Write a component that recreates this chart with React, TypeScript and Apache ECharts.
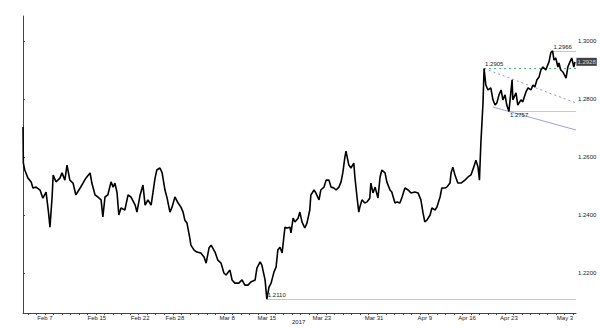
import React, { useEffect, useRef } from "react";
import * as echarts from "echarts";

// x = chart time in trading hours from the first bar, y = GBP/USD price
const hours = [
  0, 1, 5, 14, 23, 28, 37, 48, 56, 65, 72, 76, 82, 85, 93, 104, 110, 118, 124, 132,
  141, 149, 161, 169, 177, 189, 194, 203, 211, 220, 225, 231, 239, 248, 254, 259, 265, 270, 276, 287,
  296, 304, 316, 321, 330, 338, 344, 352, 361, 366, 372, 377, 386, 392, 400, 406, 414, 420, 428, 437,
  445, 451, 456, 462, 470, 473, 482, 490, 501, 510, 516, 524, 530, 541, 549, 558, 566, 572, 583, 589,
  597, 608, 617, 625, 634, 642, 654, 659, 668, 673, 682, 687, 693, 699, 707, 713, 718, 724, 730, 738,
  744, 752, 755, 761, 766, 775, 780, 786, 794, 800, 808, 811, 820, 825, 834, 839, 848, 854, 862, 868,
  876, 882, 890, 896, 901, 907, 910, 918, 924, 932, 935, 941, 946, 949, 955, 963, 969, 977, 980, 986,
  992, 1000, 1006, 1011, 1020, 1025, 1034, 1039, 1048, 1054, 1062, 1068, 1076, 1085, 1093, 1104, 1113, 1121, 1127, 1132,
  1138, 1147, 1152, 1161, 1166, 1175, 1180, 1189, 1194, 1203, 1206, 1211, 1217, 1225, 1234, 1245, 1254, 1262, 1270, 1276,
  1282, 1286, 1287, 1290, 1296, 1299, 1304, 1310, 1318, 1324, 1330, 1335, 1341, 1347, 1352, 1358, 1363, 1369, 1378, 1380,
  1389, 1394, 1403, 1408, 1417, 1423, 1431, 1437, 1442, 1448, 1454, 1459, 1465, 1473, 1476, 1482, 1487, 1492, 1496, 1501,
  1507, 1510, 1515, 1521, 1530, 1535, 1541, 1546, 1552, 1555,
];
const prices = [
  1.2703, 1.2579, 1.2555, 1.2527, 1.2514, 1.2493, 1.2496, 1.2486, 1.2458, 1.2479, 1.2407, 1.2358, 1.2462, 1.2538, 1.2514, 1.2527, 1.2545, 1.252, 1.2572, 1.252,
  1.251, 1.2469, 1.2493, 1.251, 1.2527, 1.2545, 1.251, 1.2469, 1.2462, 1.2452, 1.2393, 1.2462, 1.2469, 1.2514, 1.2496, 1.251, 1.2476, 1.24, 1.2424, 1.2417,
  1.2469, 1.2462, 1.2434, 1.241, 1.2469, 1.2503, 1.2434, 1.2452, 1.2434, 1.2476, 1.2527, 1.2555, 1.2562, 1.2545, 1.2486, 1.2458, 1.241, 1.2427, 1.2462, 1.2441,
  1.2427, 1.241, 1.2382, 1.2372, 1.232, 1.2296, 1.2279, 1.2272, 1.2269, 1.2255, 1.2234, 1.2286, 1.2296, 1.2272, 1.2244, 1.2234, 1.22, 1.2193, 1.221, 1.2176,
  1.2165, 1.2165, 1.2176, 1.2158, 1.2158, 1.2169, 1.2176, 1.2217, 1.2238, 1.2227, 1.2176, 1.211, 1.2151, 1.2165, 1.2203, 1.222, 1.2279, 1.2289, 1.2269, 1.2358,
  1.2355, 1.2358, 1.2338, 1.2389, 1.2376, 1.2389, 1.241, 1.2376, 1.2355, 1.2372, 1.2417, 1.2469, 1.2486, 1.2476, 1.2452, 1.2486, 1.2496, 1.252, 1.252, 1.2496,
  1.2493, 1.2486, 1.2496, 1.2514, 1.2545, 1.26, 1.262, 1.2572, 1.2562, 1.2579, 1.2531, 1.2462, 1.241, 1.2427, 1.2452, 1.2441, 1.2445, 1.2458, 1.251, 1.2476,
  1.2496, 1.2458, 1.2531, 1.2555, 1.2545, 1.2514, 1.2486, 1.2479, 1.2441, 1.2445, 1.2441, 1.2462, 1.2493, 1.2486, 1.2476, 1.2479, 1.2476, 1.2452, 1.2407, 1.2376,
  1.2382, 1.24, 1.2424, 1.2417, 1.2427, 1.2462, 1.2493, 1.2493, 1.2496, 1.251, 1.2545, 1.2565, 1.2538, 1.251, 1.251, 1.252, 1.2531, 1.2538, 1.2565, 1.2589,
  1.2565, 1.252, 1.2555, 1.2648, 1.2786, 1.2905, 1.2848, 1.2831, 1.2838, 1.2797, 1.2779, 1.2786, 1.2814, 1.2831, 1.2797, 1.2814, 1.2779, 1.2757, 1.2866, 1.2797,
  1.2821, 1.2779, 1.2797, 1.279, 1.2824, 1.2838, 1.2831, 1.2848, 1.2841, 1.2866, 1.2876, 1.29, 1.291, 1.29, 1.291, 1.2928, 1.2959, 1.2966, 1.2934, 1.2941,
  1.291, 1.2924, 1.29, 1.2893, 1.2872, 1.291, 1.2928, 1.2941, 1.291, 1.2928,
];

const xLabelHours = [62, 208, 330, 428, 575, 687, 842, 989, 1132, 1251, 1369, 1527];
const xLabelNames = ["Feb 7", "Feb 15", "Feb 22", "Feb 28", "Mar 8", "Mar 15", "Mar 23", "Mar 31", "Apr 9", "Apr 16", "Apr 23", "May 3"];
const yTicks = [1.22, 1.24, 1.26, 1.28, 1.3];

// annotation levels
const low1 = { h: 687, v: 1.211 };
const high1 = { h: 1299, v: 1.2905 };
const low2 = { h: 1369, v: 1.2757 };
const high2 = { h: 1492, v: 1.2966 };
const trendDashEnd = 1.2786;
const trendSolid = [
  [1324, 1.2772],
  [1558, 1.2693],
];
const lastPrice = 1.2928;
const X_MAX = 1558;

export default function App() {
  const ref = useRef<HTMLDivElement>(null);
  useEffect(() => {
    document.body.style.margin = "0";
    const chart = echarts.init(ref.current!, null, { renderer: "svg" });
    const data = hours.map((h, i) => [h, prices[i]]);
    const dayTicks: number[] = [];
    for (let t = 14; t <= X_MAX; t += 24) dayTicks.push(t);
    const font = "Liberation Sans";
    const lblStyle = { fontSize: 6, color: "#222", fontFamily: font, padding: 0 };
    chart.setOption({
      animation: false,
      grid: { left: 23, right: 24, top: 16, bottom: 15, containLabel: false },
      xAxis: {
        type: "value",
        min: 0,
        max: X_MAX,
        splitLine: { show: false },
        axisLine: { lineStyle: { color: "#444", width: 1 } },
        axisTick: { customValues: dayTicks, length: 2, lineStyle: { color: "#444" } },
        axisLabel: {
          customValues: xLabelHours,
          formatter: (v: number) => {
            const i = xLabelHours.indexOf(Math.round(v));
            return i >= 0 ? xLabelNames[i] : "";
          },
          fontSize: 6,
          color: "#222",
          fontFamily: font,
          margin: 2,
        },
      },
      yAxis: {
        type: "value",
        position: "right",
        min: 1.2062,
        max: 1.3086,
        splitLine: { show: false },
        axisLine: { show: true, lineStyle: { color: "#444", width: 1 } },
        axisTick: { show: true, customValues: yTicks, length: 2, lineStyle: { color: "#444" } },
        axisLabel: {
          customValues: yTicks,
          formatter: (v: number) => v.toFixed(4),
          fontSize: 6,
          color: "#222",
          fontFamily: font,
          margin: 2,
        },
      },
      graphic: [
        {
          type: "text",
          left: 292,
          top: 319,
          style: { text: "2017", fontSize: 6, fill: "#222", fontFamily: font },
        },
      ],
      series: [
        {
          type: "line",
          data,
          showSymbol: false,
          symbol: "none",
          lineStyle: { color: "#000", width: 1.6 },
          z: 5,
          markLine: {
            silent: true,
            symbol: ["none", "none"],
            animation: false,
            data: [
              [
                {
                  coord: [low1.h, low1.v],
                  lineStyle: { color: "#a9d6c8", width: 1, type: "solid" },
                  label: { show: true, position: "insideStartTop", distance: 1, formatter: low1.v.toFixed(4), ...lblStyle },
                },
                { coord: [X_MAX, low1.v] },
              ],
              [
                {
                  coord: [high1.h, high1.v],
                  lineStyle: { color: "#3cb878", width: 1, type: [2, 3] },
                  label: { show: true, position: "insideStartTop", distance: 1, formatter: high1.v.toFixed(4), ...lblStyle },
                },
                { coord: [X_MAX, high1.v] },
              ],
              [
                {
                  coord: [low2.h, low2.v],
                  lineStyle: { color: "#a4dcb8", width: 1, type: "solid" },
                  label: { show: true, position: "insideStartBottom", distance: 1, formatter: low2.v.toFixed(4), ...lblStyle },
                },
                { coord: [X_MAX, low2.v] },
              ],
              [
                {
                  coord: [high2.h, high2.v],
                  lineStyle: { color: "#a4dcb8", width: 1, type: "solid" },
                  label: { show: true, position: "insideStartTop", distance: 1, formatter: high2.v.toFixed(4), ...lblStyle },
                },
                { coord: [X_MAX, high2.v] },
              ],
              [
                {
                  coord: [high1.h, high1.v],
                  lineStyle: { color: "#8c90d8", width: 1, type: [2, 3] },
                  label: { show: false },
                },
                { coord: [X_MAX, trendDashEnd] },
              ],
              [
                {
                  coord: trendSolid[0],
                  lineStyle: { color: "#98a2e0", width: 1, type: "solid" },
                  label: { show: false },
                },
                { coord: trendSolid[1] },
              ],
            ],
          },
        },
        {
          type: "scatter",
          data: [[hours[hours.length - 1], lastPrice]],
          symbolSize: 1,
          itemStyle: { color: "rgba(0,0,0,0)" },
          silent: true,
          z: 10,
          label: {
            show: true,
            position: "right",
            distance: 1,
            formatter: () => lastPrice.toFixed(4),
            backgroundColor: "#111",
            color: "#fff",
            fontSize: 6,
            fontFamily: font,
            padding: [1, 1, 1, 1],
          },
        },
      ],
    });
    return () => chart.dispose();
  }, []);
  return <div ref={ref} style={{ width: 600, height: 328 }} />;
}
